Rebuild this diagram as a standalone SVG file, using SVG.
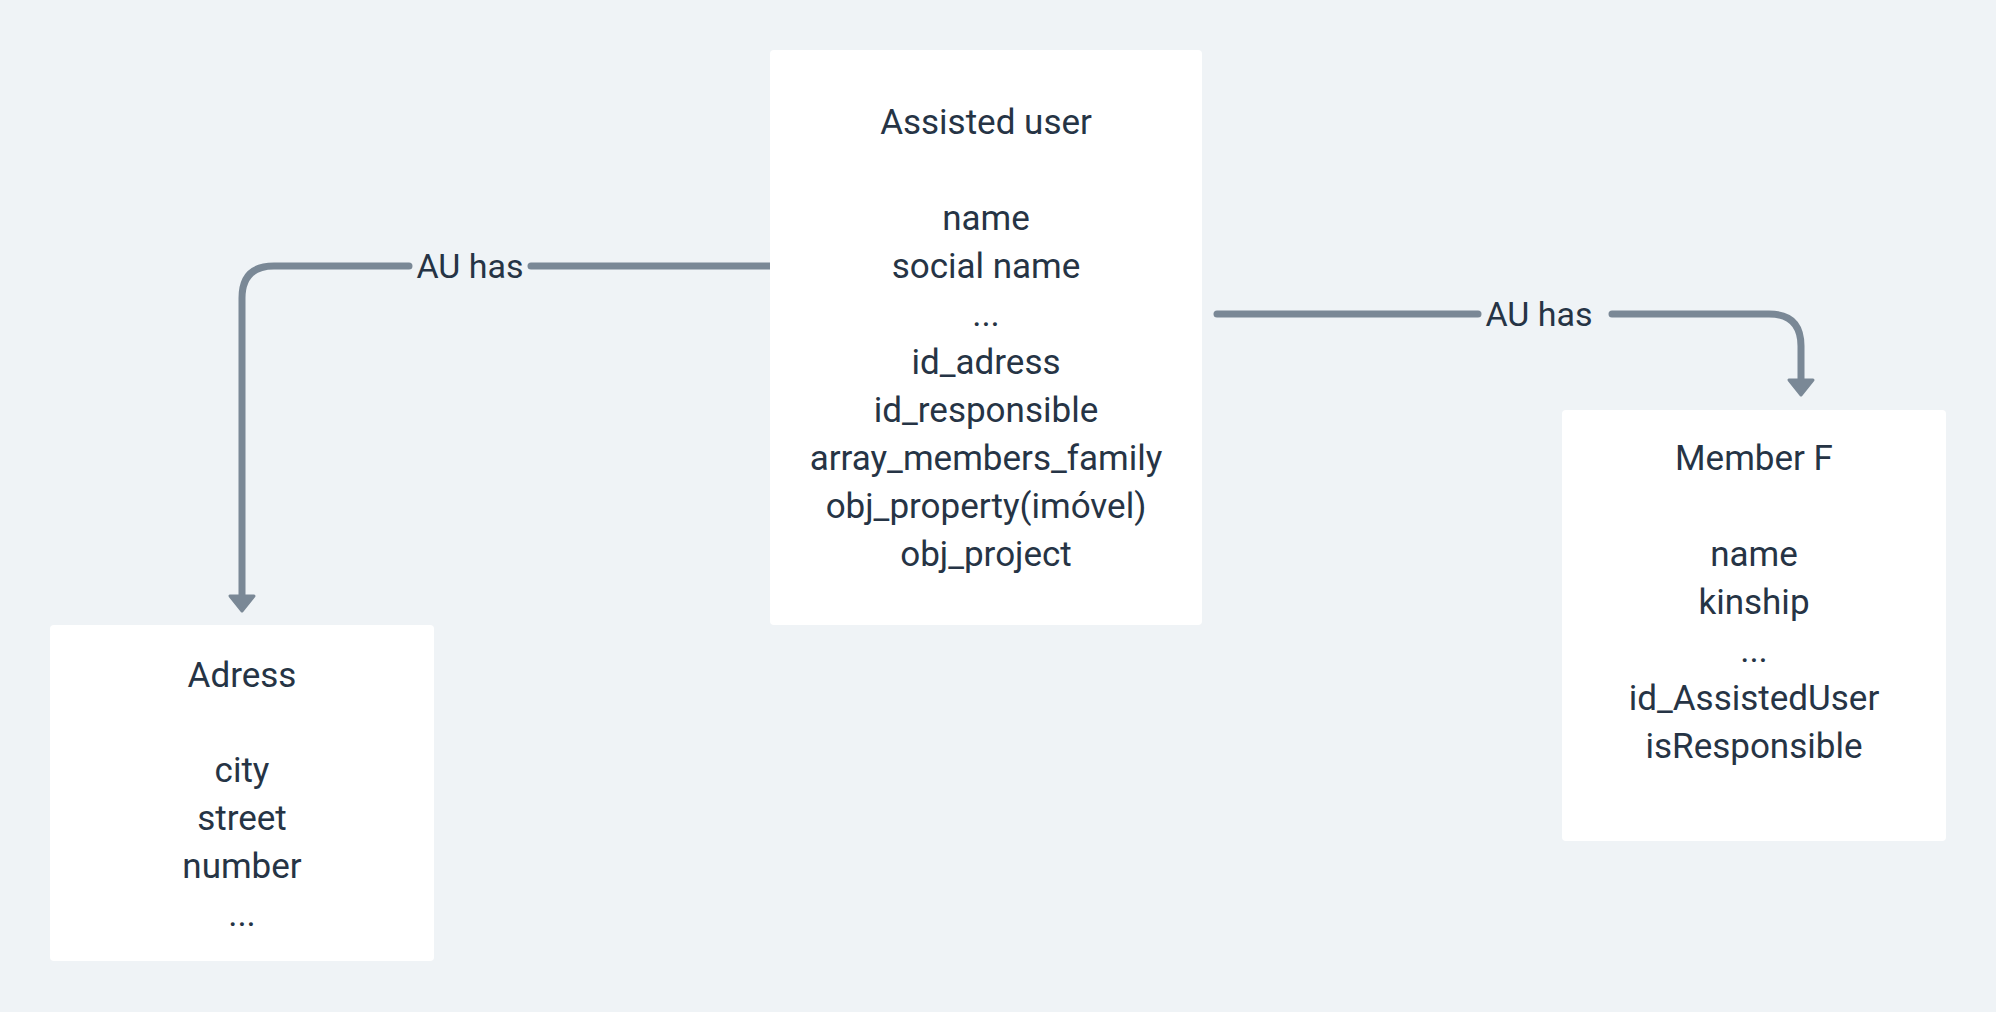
<svg xmlns="http://www.w3.org/2000/svg" width="1996" height="1012" viewBox="0 0 1996 1012">
<style>
.bg{fill:#eff3f6}
.box{fill:#ffffff}
text{font-family:Roboto,"Liberation Sans",sans-serif;font-size:35px;fill:#263445;text-anchor:middle}
.lbl{font-size:34px}
.ln{fill:none;stroke:#7a8896;stroke-width:7;stroke-linecap:round;stroke-linejoin:round}
.ah{fill:#7a8896;stroke:#7a8896;stroke-width:3;stroke-linejoin:round}
</style>
<rect class="bg" x="0" y="0" width="1996" height="1012"/>
<g id="connectors">
<path class="ln" d="M774,266 H531"/>
<path class="ln" d="M409,266 H274 Q242,266 242,298 V596"/>
<path class="ah" d="M230,596 L254,596 L242,611 Z"/>
<text class="lbl" x="470" y="278">AU has</text>
<path class="ln" d="M1217,314 H1478"/>
<path class="ln" d="M1612,314 H1769 Q1801,314 1801,346 V380"/>
<path class="ah" d="M1789,380 L1813,380 L1801,395 Z"/>
<text class="lbl" x="1539" y="326">AU has</text>
</g>
<g id="assisted-user">
<rect class="box" x="770" y="50" width="432" height="575" rx="4"/>
<text x="986" y="134">Assisted user</text>
<text x="986" y="230">name</text>
<text x="986" y="278">social name</text>
<text x="986" y="326">...</text>
<text x="986" y="374">id_adress</text>
<text x="986" y="422">id_responsible</text>
<text x="986" y="470">array_members_family</text>
<text x="986" y="518">obj_property(imóvel)</text>
<text x="986" y="566">obj_project</text>
</g>
<g id="member-f">
<rect class="box" x="1562" y="410" width="384" height="431" rx="4"/>
<text x="1754" y="470">Member F</text>
<text x="1754" y="566">name</text>
<text x="1754" y="614">kinship</text>
<text x="1754" y="662">...</text>
<text x="1754" y="710">id_AssistedUser</text>
<text x="1754" y="758">isResponsible</text>
</g>
<g id="adress">
<rect class="box" x="50" y="625" width="384" height="336" rx="4"/>
<text x="242" y="687">Adress</text>
<text x="242" y="782">city</text>
<text x="242" y="830">street</text>
<text x="242" y="878">number</text>
<text x="242" y="926">...</text>
</g>
</svg>
